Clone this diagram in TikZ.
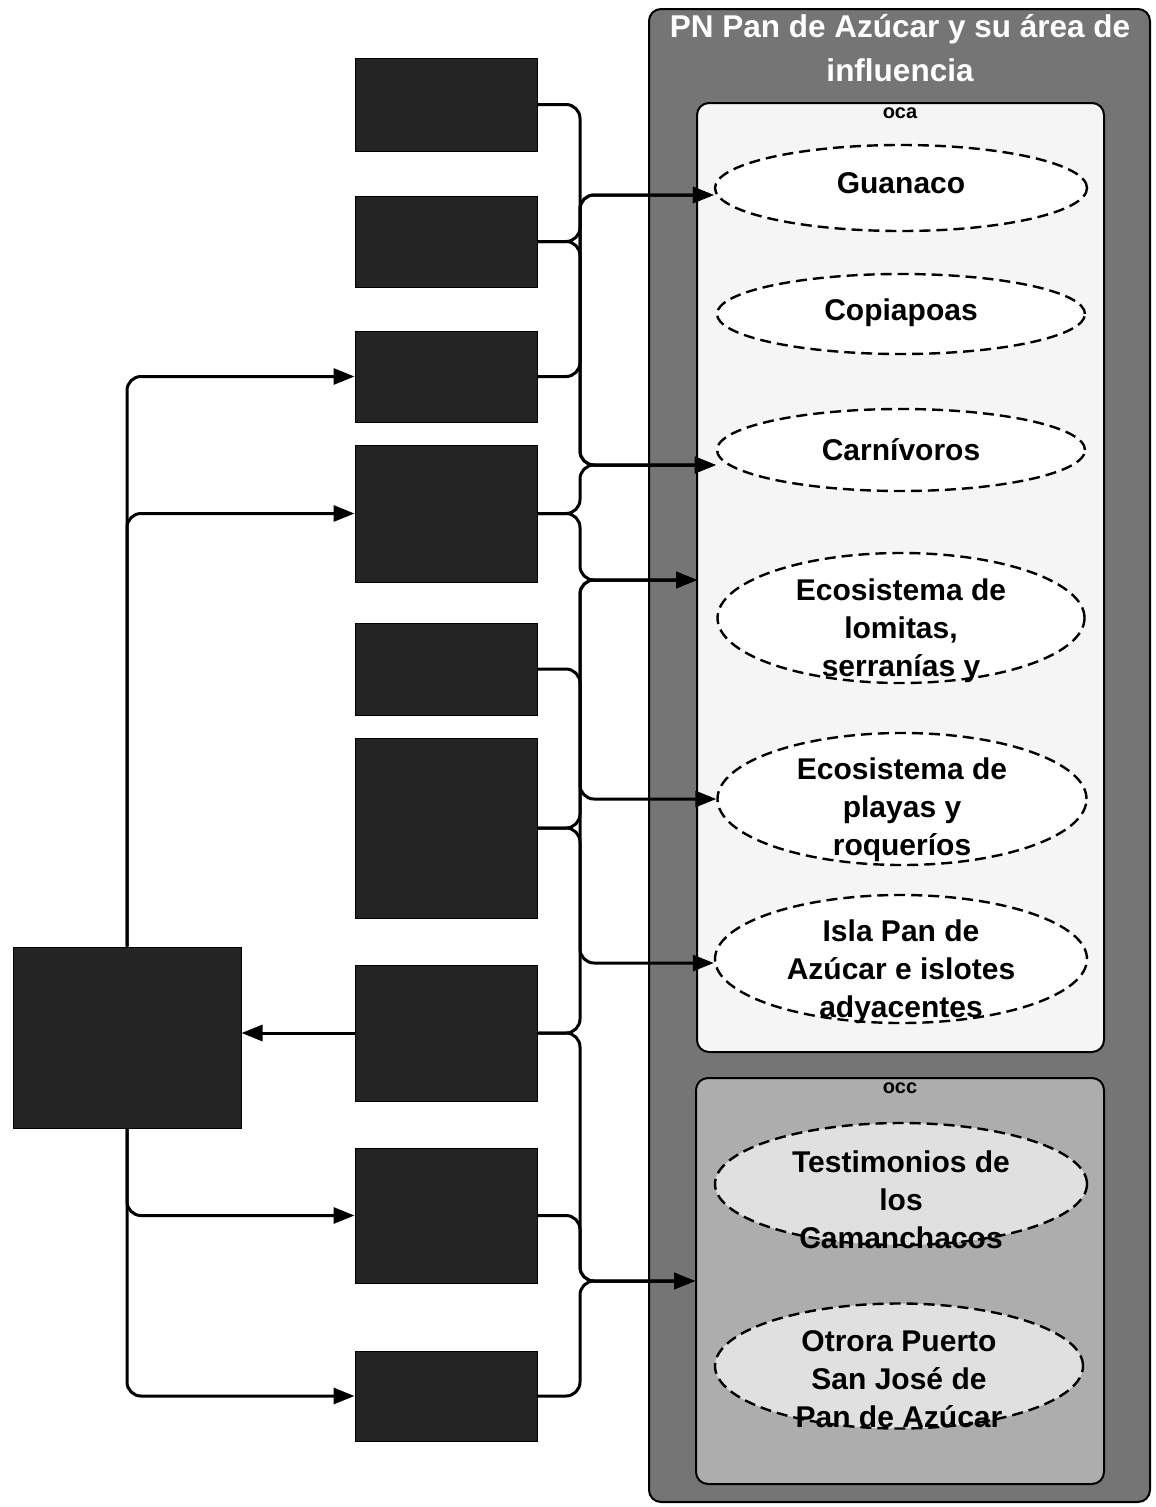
\documentclass[tikz,border=0pt]{standalone}
\usepackage{fontspec}
\setmainfont{Liberation Sans}
\usetikzlibrary{shapes.geometric,arrows.meta}
\begin{document}
\begin{tikzpicture}[x=1pt,y=-1pt]
\tikzset{
  darkbox/.style={draw=black, fill=black!86, line width=1pt, inner sep=0pt, minimum width=182pt},
  conn/.style={line width=3pt, rounded corners=14pt},
  arr/.style={conn, -{Triangle[length=21pt,width=16pt]}},
  ell/.style={ellipse, draw, dash pattern=on 11pt off 6pt, line width=2.4pt, inner sep=0pt},
  etxt/.style={font=\fontsize{30}{38}\selectfont\bfseries, align=center, inner sep=0pt},
  panel/.style={draw=black, line width=2pt, rounded corners=12pt, inner sep=0pt},
}
\useasboundingbox (0,0) rectangle (1156,1507);
\fill[white] (0,0) rectangle (1156,1507);

% containers
\node[panel, fill=black!54, minimum width=501pt, minimum height=1493pt] (pn) at (899.5,755.5) {};
\node[panel, fill=black!4, minimum width=407pt, minimum height=949pt] (oca) at (900.5,577.5) {};
\node[panel, fill=black!32, minimum width=408pt, minimum height=406pt] (occ) at (900,1281) {};
\node[font=\fontsize{31.5}{44}\selectfont\bfseries, text=white, align=center, inner sep=0pt] (title) at (900,48) {PN Pan de Azúcar y su área de\\influencia};
\node[font=\fontsize{20}{22}\selectfont\bfseries, inner sep=0pt] (ocalab) at (900,113) {oca};
\node[font=\fontsize{20}{22}\selectfont\bfseries, inner sep=0pt] (occlab) at (900,1088) {occ};

% ellipses
\node[ell, fill=white, minimum width=372pt, minimum height=86pt] (guan) at (901,188) {};
\node[ell, fill=white, minimum width=368pt, minimum height=80pt] (copi) at (901,314) {};
\node[ell, fill=white, minimum width=368pt, minimum height=82pt] (carn) at (901,450) {};
\node[ell, fill=white, minimum width=367pt, minimum height=130pt] (lom) at (901,618) {};
\node[ell, fill=white, minimum width=369pt, minimum height=132pt] (pla) at (902,799) {};
\node[ell, fill=white, minimum width=372pt, minimum height=128pt] (isla) at (901,959) {};
\node[ell, fill=black!12, minimum width=372pt, minimum height=122pt] (test) at (901,1184) {};
\node[ell, fill=black!12, minimum width=368pt, minimum height=125pt] (otro) at (899,1366) {};

\node[etxt] (tguantxt) at (901,183) {Guanaco};
\node[etxt] (tcopitxt) at (901,313) {Copiapoas};
\node[etxt] (tcarntxt) at (901,450) {Carnívoros};
\node[etxt] (tlomtxt) at (901,631) {Ecosistema de\\lomitas,\\serranías y};
\node[etxt] (tplatxt) at (902,810) {Ecosistema de\\playas y\\roqueríos};
\node[etxt] (tislatxt) at (901,972) {Isla Pan de\\Azúcar e islotes\\adyacentes};
\node[etxt] (ttesttxt) at (901,1200) {Testimonios de\\los\\Camanchacos};
\node[etxt] (totrotxt) at (899,1379) {Otrora Puerto\\San José de\\Pan de Azúcar};

% dark boxes
\node[darkbox, minimum height=93pt] (b1) at (446,104.5) {};
\node[darkbox, minimum height=91pt] (b2) at (446,241.5) {};
\node[darkbox, minimum height=91pt] (b3) at (446,376.5) {};
\node[darkbox, minimum height=137pt] (b4) at (446,513.5) {};
\node[darkbox, minimum height=92pt] (b5) at (446,669) {};
\node[darkbox, minimum height=180pt] (b6) at (446,828) {};
\node[darkbox, minimum height=136pt] (b7) at (446,1033) {};
\node[darkbox, minimum height=135pt] (b8) at (446,1215.5) {};
\node[darkbox, minimum height=90pt] (b9) at (446,1396) {};
\node[darkbox, minimum width=228pt, minimum height=181pt] (big) at (127,1037.5) {};

% bus and targets
\coordinate (bus) at (580,0);
\coordinate (tguan) at ([yshift=-7pt]guan.west);
\coordinate (tcarn) at ([yshift=-15pt]carn.west);
\coordinate (tlom) at (697,580);
\coordinate (tpla) at (pla.west);
\coordinate (tisla) at ([yshift=-4pt]isla.west);
\coordinate (tocc) at (occ.west);

% right-hand connectors
\draw[arr] (b1.east) -- (b1.east -| bus) -- (bus |- tcarn) -- (tcarn);
\draw[arr] (b2.east) -- (b2.east -| bus) -- (bus |- tguan) -- (tguan);
\draw[arr] (b2.east) -- (b2.east -| bus) -- (bus |- tcarn) -- (tcarn);
\draw[arr] (b3.east) -- (b3.east -| bus) -- (bus |- tguan) -- (tguan);
\draw[arr] (b4.east) -- (b4.east -| bus) -- (bus |- tcarn) -- (tcarn);
\draw[arr] (b4.east) -- (b4.east -| bus) -- (bus |- tlom) -- (tlom);
\draw[arr] (b5.east) -- (b5.east -| bus) -- (bus |- tpla) -- (tpla);
\draw[arr] (b6.east) -- (b6.east -| bus) -- (bus |- tlom) -- (tlom);
\draw[arr] (b6.east) -- (b6.east -| bus) -- (bus |- tisla) -- (tisla);
\draw[arr] (b7.east) -- (b7.east -| bus) -- (bus |- tlom) -- (tlom);
\draw[arr] (b7.east) -- (b7.east -| bus) -- (bus |- tocc) -- (tocc);
\draw[arr] (b8.east) -- (b8.east -| bus) -- (bus |- tocc) -- (tocc);
\draw[arr] (b9.east) -- (b9.east -| bus) -- (bus |- tocc) -- (tocc);

% left-hand connectors
\draw[arr] (big.north) |- (b3.west);
\draw[arr] (big.north) |- (b4.west);
\draw[arr] (big.south) |- (b8.west);
\draw[arr] (big.south) |- (b9.west);
\draw[arr] (b7.west) -- (b7.west -| big.east);
\end{tikzpicture}
\end{document}
